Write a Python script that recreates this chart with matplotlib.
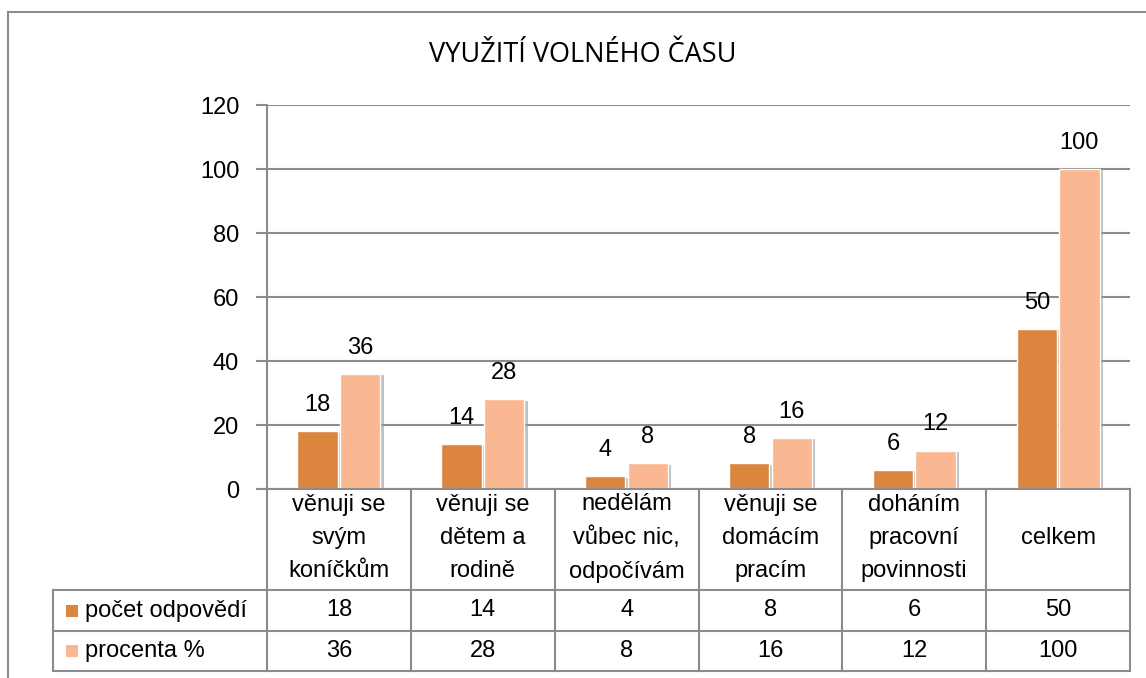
import matplotlib
matplotlib.use("Agg")
import matplotlib.pyplot as plt
import matplotlib.patheffects as pe
from matplotlib.patches import Rectangle
import numpy as np

plt.rcParams['font.family'] = ['Liberation Sans', 'DejaVu Sans']

# data
categories = ["věnuji se\nsvým\nkoníčkům", "věnuji se\ndětem a\nrodině",
              "nedělám\nvůbec nic,\nodpočívám", "věnuji se\ndomácím\npracím",
              "doháním\npracovní\npovinnosti", "celkem"]
series_names = ["počet odpovědí", "procenta %"]
pocet = [18, 14, 4, 8, 6, 50]
procenta = [36, 28, 8, 16, 12, 100]
colors = ["#DB853E", "#F9B792"]

W, H = 1146, 678
fig = plt.figure(figsize=(W / 100, H / 100), dpi=100)

# plot area in pixels
x0, x1, ytop, ybot = 267, 1130, 105, 489
ax = fig.add_axes([x0 / W, 1 - ybot / H, (x1 - x0) / W, (ybot - ytop) / H])

grid_c = "#8C8C8C"
fs = 17
n = len(categories)
x = np.arange(n)
bw = 0.28
shadow = [pe.SimplePatchShadow(offset=(2.5, -1), shadow_rgbFace="#9a9a9a", alpha=0.6), pe.Normal()]
for vals, off, c in [(pocet, -bw / 2 - 0.008, colors[0]), (procenta, bw / 2 + 0.008, colors[1])]:
    bars = ax.bar(x + off, vals, bw, color=c, edgecolor="white", linewidth=1, zorder=3)
    for b in bars:
        b.set_path_effects(shadow)
    for xi, v in zip(x + off, vals):
        ax.annotate(str(v), (xi, v), xytext=(0, 11), textcoords="offset points",
                    ha="center", va="bottom", fontsize=fs, zorder=4)

ax.set_xlim(-0.5, n - 0.5)
ax.set_ylim(0, 120)
ax.set_yticks(range(0, 121, 20))
ax.set_xticks([])
ax.yaxis.grid(True, color=grid_c, linewidth=1.5)
ax.set_axisbelow(True)
for s in ["top", "right", "bottom"]:
    ax.spines[s].set_visible(False)
ax.spines["left"].set_color(grid_c)
ax.spines["left"].set_linewidth(1.5)
ax.tick_params(axis="y", length=8, width=1.5, color=grid_c, labelsize=fs, pad=12)

# data table drawn below the axes
def fy(py):
    return 1 - py / H

def fx(px):
    return px / W

col_edges = np.linspace(x0, x1, n + 1)
row_lines = [489, 590, 631, 671]
leg_left = 53
line_kw = dict(color=grid_c, linewidth=1.5, transform=fig.transFigure)

# horizontal lines
fig.add_artist(plt.Line2D([fx(x0 - 8), fx(x1)], [fy(489), fy(489)], **line_kw))
for py in row_lines[1:]:
    fig.add_artist(plt.Line2D([fx(leg_left), fx(x1)], [fy(py), fy(py)], **line_kw))
# vertical lines
for px in col_edges:
    fig.add_artist(plt.Line2D([fx(px), fx(px)], [fy(489), fy(671)], **line_kw))
fig.add_artist(plt.Line2D([fx(leg_left), fx(leg_left)], [fy(590), fy(671)], **line_kw))

centers = (col_edges[:-1] + col_edges[1:]) / 2
for cx, lab in zip(centers, categories):
    fig.text(fx(cx), fy(538), lab, ha="center", va="center", fontsize=fs, linespacing=1.65)

rows = [pocet, procenta]
for ri, (name, vals, c) in enumerate(zip(series_names, rows, colors)):
    top, bot = row_lines[ri + 1], row_lines[ri + 2]
    cy = (top + bot) / 2
    fig.add_artist(Rectangle((fx(66), fy(cy + 6)), 12 / W, 12 / H, facecolor=c,
                             edgecolor="none", transform=fig.transFigure))
    fig.text(fx(85), fy(cy), name, ha="left", va="center", fontsize=fs)
    for cx, v in zip(centers, vals):
        fig.text(fx(cx), fy(cy), str(v), ha="center", va="center", fontsize=fs)

# title
fig.text(fx(583), fy(55), "VYUŽITÍ VOLNÉHO ČASU", ha="center", va="center",
         fontsize=19.5, family=["Open Sans", "DejaVu Sans"])

# outer chart frame
fig.add_artist(Rectangle((fx(8), -0.05), 1.1, fy(12) + 0.05, facecolor="none",
                         edgecolor=grid_c, linewidth=1.5, transform=fig.transFigure))

fig.savefig("out.png", dpi=100)
